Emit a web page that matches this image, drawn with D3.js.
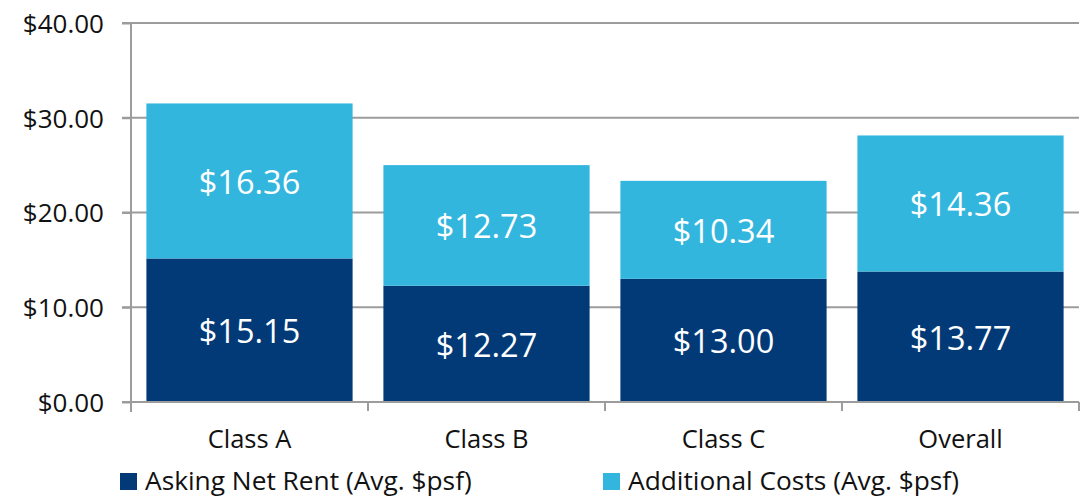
<!DOCTYPE html>
<html><head><meta charset="utf-8">
<script src="https://cdn.jsdelivr.net/npm/d3@7"></script>
<style>body{margin:0;background:#fff;}svg{display:block;font-family:"Open Sans",sans-serif;}</style>
</head><body><svg id="c" width="1087" height="498"></svg>
<script>
const categories = ["Class A","Class B","Class C","Overall"];
const askingNetRent = [15.15,12.27,13.00,13.77];
const additionalCosts = [16.36,12.73,10.34,14.36];
const seriesNames = ["Asking Net Rent (Avg. $psf)","Additional Costs (Avg. $psf)"];
const yTicks = [0,10,20,30,40];
const colors = ["#023a78","#33b6de"];

const svg = d3.select("#c");
const x = d3.scaleBand().domain(categories).range([131,1079]).paddingInner(0.13).paddingOuter(0.065);
const y = d3.scaleLinear().domain([0,40]).range([402,23]);
const fmt = v => "$" + v.toFixed(2);
const grid = "#9c9c9c";

// gridlines
svg.append("g").selectAll("line").data(yTicks).join("line")
  .attr("x1",122).attr("x2",1079).attr("y1",d=>y(d)).attr("y2",d=>y(d))
  .attr("stroke",grid).attr("stroke-width",2);

const data = categories.map((c,i)=>({cat:c, a:askingNetRent[i], b:additionalCosts[i]}));
const stack = d3.stack().keys(["a","b"])(data);
svg.append("g").selectAll("g").data(stack).join("g").attr("fill",(d,i)=>colors[i])
  .selectAll("rect").data(d=>d).join("rect")
  .attr("x",d=>x(d.data.cat)).attr("width",x.bandwidth())
  .attr("y",d=>y(d[1])).attr("height",d=>y(d[0])-y(d[1]));

// labels
svg.append("g").selectAll("g").data(stack).join("g")
  .selectAll("text").data(d=>d).join("text")
  .attr("x",d=>x(d.data.cat)+x.bandwidth()/2)
  .attr("y",d=>(y(d[0])+y(d[1]))/2)
  .attr("dy","0.4em").attr("text-anchor","middle")
  .attr("fill","#fff").attr("font-size",32.5)
  .text(d=>fmt(d[1]-d[0]));

// y axis
const yAxis = d3.axisLeft(y).tickValues(yTicks).tickFormat(fmt).tickSize(9).tickPadding(18);
const gy = svg.append("g").attr("transform","translate(131,0)").call(yAxis);
gy.select(".domain").attr("stroke",grid).attr("stroke-width",2).attr("d","M0,23V412");
gy.selectAll(".tick line").attr("stroke",grid).attr("stroke-width",2);
gy.selectAll(".tick text").attr("font-size",26).attr("fill","#111").attr("font-family","Open Sans").attr("dy","0.36em");

// x axis
const xAxis = d3.axisBottom(x).tickSize(0).tickPadding(37);
const gx = svg.append("g").attr("transform","translate(0,402)").call(xAxis);
gx.select(".domain").attr("stroke",grid).attr("stroke-width",2).attr("d","M131,0H1079");
gx.selectAll(".tick text").attr("font-size",25.5).attr("fill","#111").attr("font-family","Open Sans").attr("dy","0.35em");
const bounds = [131].concat(categories.map(c=>x(c)+x.bandwidth()+x.step()*x.paddingInner()/2));
bounds[bounds.length-1]=1079;
svg.append("g").selectAll("line").data(bounds).join("line")
  .attr("x1",d=>d).attr("x2",d=>d).attr("y1",402).attr("y2",411)
  .attr("stroke",grid).attr("stroke-width",2);

// legend
const legX = [120,603];
const lg = svg.append("g").selectAll("g").data(seriesNames).join("g")
  .attr("transform",(d,i)=>`translate(${legX[i]},473)`);
lg.append("rect").attr("width",17).attr("height",17).attr("fill",(d,i)=>colors[i]);
lg.append("text").attr("x",25).attr("y",17).attr("font-size",26.3).attr("fill","#111").text(d=>d);
</script></body></html>
